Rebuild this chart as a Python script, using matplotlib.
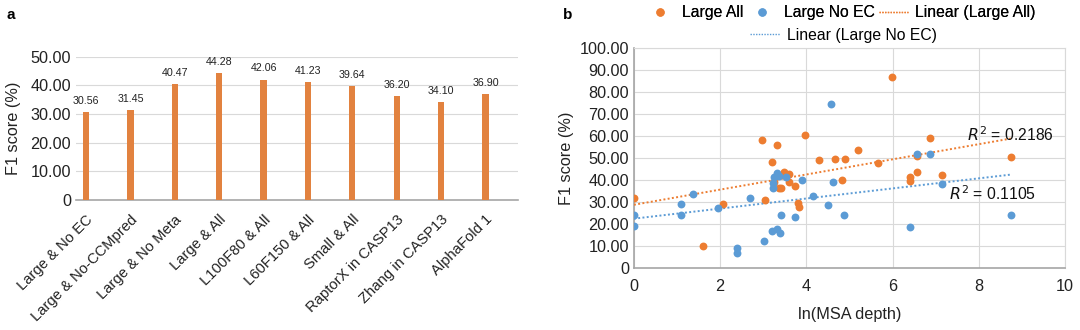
import numpy as np
import matplotlib
matplotlib.use("Agg")
import matplotlib.pyplot as plt
from matplotlib.ticker import FuncFormatter, MultipleLocator
from matplotlib.lines import Line2D

plt.rcParams['font.family'] = ['Liberation Sans', 'DejaVu Sans']

# ---- Panel a data ----
bar_labels = ["Large & No EC", "Large & No-CCMpred", "Large & No Meta", "Large & All",
              "L100F80 & All", "L60F150 & All", "Small & All", "RaptorX in CASP13",
              "Zhang in CASP13", "AlphaFold 1"]
bar_values = [30.56, 31.45, 40.47, 44.28, 42.06, 41.23, 39.64, 36.20, 34.10, 36.90]

# ---- Panel b data ----
all_x = [0.00, 1.61, 2.07, 2.97, 3.03, 3.21, 3.32, 3.24, 3.37, 3.42, 3.49, 3.60, 3.59,
         3.73, 3.80, 3.84, 3.98, 4.29, 4.67, 4.83, 4.90, 5.21, 5.66, 5.99, 6.40, 6.40,
         6.56, 6.57, 6.87, 7.15, 8.75]
all_y = [32.0, 10.1, 29.1, 58.2, 30.9, 48.3, 56.0, 39.2, 36.5, 36.2, 43.5, 42.7, 38.9,
         37.3, 29.4, 27.6, 60.6, 49.0, 49.7, 40.0, 49.4, 53.6, 47.9, 86.8, 41.5, 39.5,
         50.9, 43.8, 59.1, 42.4, 50.5]
noec_x = [0.00, 0.00, 1.09, 1.09, 1.38, 1.94, 2.39, 2.39, 2.70, 3.02, 3.21, 3.33, 3.39,
          3.31, 3.24, 3.36, 3.53, 3.23, 3.23, 3.42, 3.73, 3.90, 4.16, 4.50, 4.57, 4.61,
          4.88, 6.41, 6.57, 6.87, 7.15, 8.75]
noec_y = [24.2, 19.1, 29.2, 24.1, 33.6, 27.3, 9.0, 6.7, 31.6, 12.4, 17.0, 17.6, 15.8,
          43.3, 41.2, 41.8, 41.5, 38.8, 36.5, 24.2, 23.3, 40.0, 32.6, 28.6, 74.5, 39.2,
          24.1, 18.5, 51.7, 51.7, 38.2, 24.2]
r2_all_text = "0.2186"
r2_noec_text = "0.1105"

BAR_C = '#E2823F'
ORANGE = '#ED7D31'
BLUE = '#5B9BD5'
GRID = '#D9D9D9'
AXC = '#A6A6A6'
TXT = '#222222'
FS = 11.7
LFS = 11.3

fig = plt.figure(figsize=(10.8, 3.3), dpi=100)

def yfmt(v, pos):
    return '0' if abs(v) < 1e-9 else f'{v:.2f}'

# ---------------- Panel a ----------------
ax1 = fig.add_axes([0.0704, 0.394, 0.4092, 0.434])
xpos = np.arange(len(bar_values))
ax1.bar(xpos, bar_values, width=0.14, color=BAR_C, zorder=3)
for xi, v in zip(xpos, bar_values):
    ax1.text(xi, v + 2.2, f'{v:.2f}', ha='center', va='bottom', fontsize=7.7, color=TXT)
ax1.set_ylim(0, 50)
ax1.set_xlim(-0.225, 9.73)
ax1.yaxis.set_major_locator(MultipleLocator(10))
ax1.yaxis.set_major_formatter(FuncFormatter(yfmt))
ax1.grid(axis='y', color=GRID, linewidth=0.8, zorder=0)
for s in ['left', 'right', 'top']:
    ax1.spines[s].set_visible(False)
ax1.spines['bottom'].set_color(AXC)
ax1.spines['bottom'].set_linewidth(1.2)
ax1.tick_params(axis='both', length=0, labelsize=FS, colors=TXT)
ax1.tick_params(axis='x', pad=9)
ax1.set_xticks(xpos)
ax1.set_xticklabels(bar_labels, rotation=45, ha='right', rotation_mode='anchor', fontsize=10.6)
ax1.set_ylabel('F1 score (%)', fontsize=FS, color=TXT, labelpad=7)
fig.text(0.006, 0.975, 'a', fontsize=11, fontweight='bold', va='top', ha='left')

# ---------------- Panel b ----------------
ax2 = fig.add_axes([0.587, 0.188, 0.399, 0.6665])
ax2.scatter(all_x, all_y, s=32, color=ORANGE, zorder=4, linewidths=0)
ax2.scatter(noec_x, noec_y, s=32, color=BLUE, zorder=4, linewidths=0)
for xs, ys, c in [(all_x, all_y, ORANGE), (noec_x, noec_y, BLUE)]:
    k, b = np.polyfit(xs, ys, 1)
    xl = np.array([min(xs), max(xs)])
    ax2.plot(xl, k * xl + b, linestyle=(0, (1, 1.2)), color=c, linewidth=1.4, zorder=3)
ax2.set_xlim(0, 10)
ax2.set_ylim(0, 100)
ax2.xaxis.set_major_locator(MultipleLocator(2))
ax2.yaxis.set_major_locator(MultipleLocator(10))
ax2.yaxis.set_major_formatter(FuncFormatter(yfmt))
ax2.grid(True, color=GRID, linewidth=0.8, zorder=0)
ax2.set_axisbelow(True)
for s in ['right', 'top']:
    ax2.spines[s].set_color(GRID)
    ax2.spines[s].set_linewidth(0.8)
for s in ['left', 'bottom']:
    ax2.spines[s].set_color(AXC)
    ax2.spines[s].set_linewidth(1.2)
ax2.tick_params(axis='both', length=0, labelsize=FS, colors=TXT)
ax2.tick_params(axis='x', pad=8)
ax2.set_ylabel('F1 score (%)', fontsize=FS, color=TXT, labelpad=4)
ax2.set_xlabel('ln(MSA depth)', fontsize=FS, color=TXT, labelpad=9)
ax2.text(7.73, 60.5, r'$R^2$ = ' + r2_all_text, fontsize=11.3, va='center', ha='left', color='#111111')
ax2.text(7.31, 34.0, r'$R^2$ = ' + r2_noec_text, fontsize=11.3, va='center', ha='left', color='#111111')
fig.text(0.521, 0.975, 'b', fontsize=11, fontweight='bold', va='top', ha='left')

h1 = [Line2D([], [], marker='o', linestyle='none', color=ORANGE, markersize=5),
      Line2D([], [], marker='o', linestyle='none', color=BLUE, markersize=5),
      Line2D([], [], linestyle=(0, (1, 1)), color=ORANGE, linewidth=1.0)]
l1 = ['Large All', 'Large No EC', 'Linear (Large All)']
leg1 = fig.legend(h1, l1, loc='center', bbox_to_anchor=(0.778, 0.962), ncol=3, frameon=False,
                  fontsize=LFS, handlelength=1.9, handletextpad=0.45, columnspacing=0.25, borderpad=0)
h2 = [Line2D([], [], linestyle=(0, (1, 1)), color=BLUE, linewidth=1.0)]
leg2 = fig.legend(h2, ['Linear (Large No EC)'], loc='center', bbox_to_anchor=(0.781, 0.893),
                  frameon=False, fontsize=LFS, handlelength=1.9, handletextpad=0.45, borderpad=0)
fig.add_artist(leg1)

fig.savefig('out.png', dpi=100, facecolor='white')
